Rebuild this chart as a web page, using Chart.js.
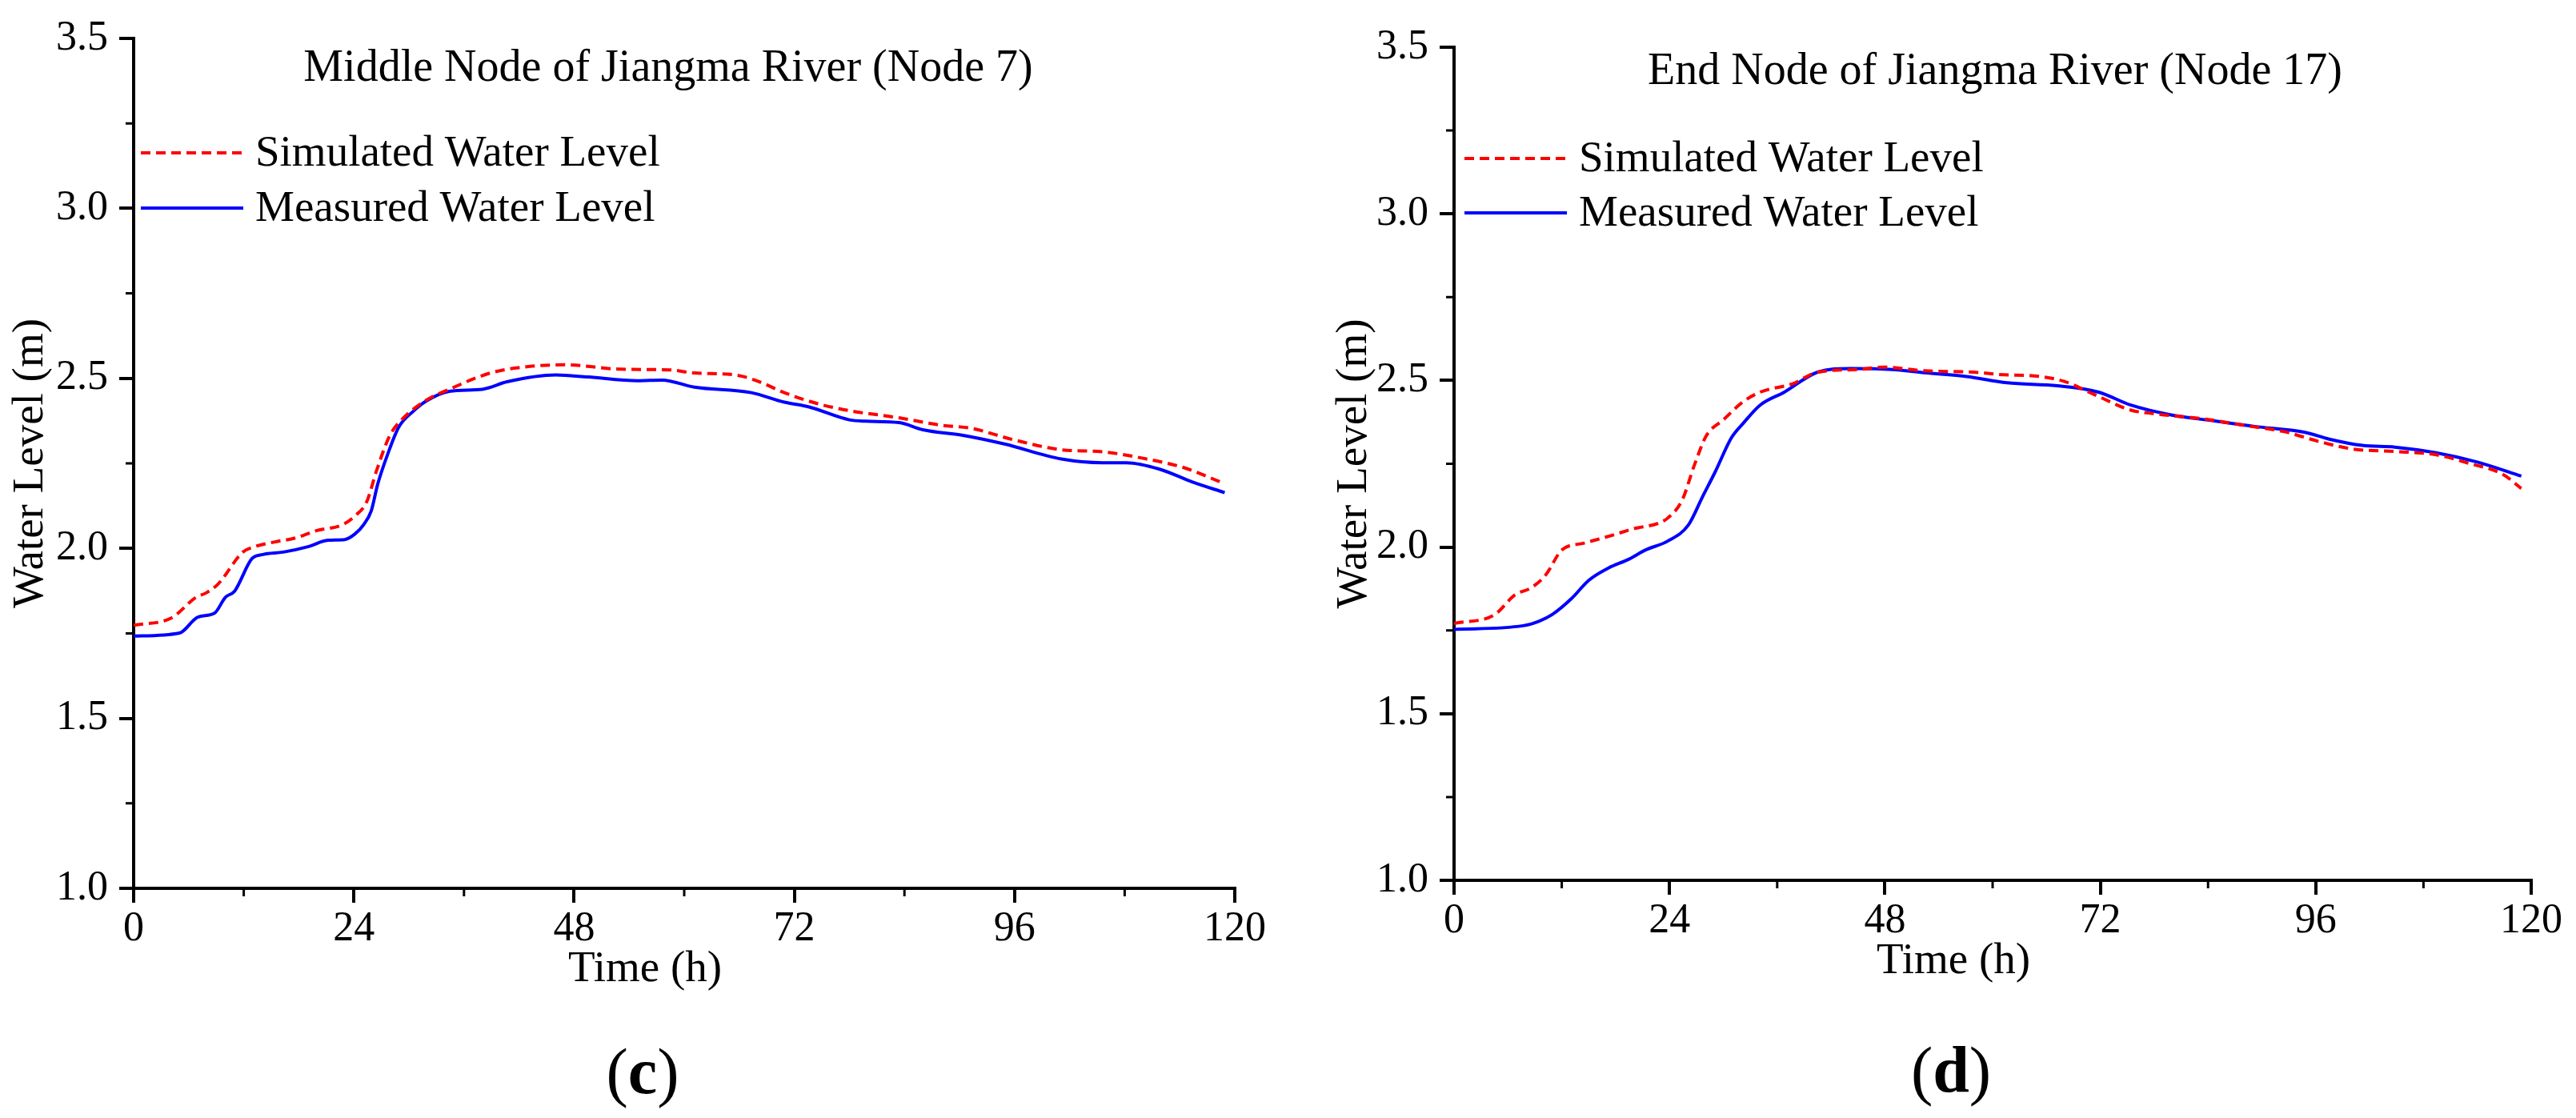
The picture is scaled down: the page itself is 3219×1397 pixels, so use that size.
<!DOCTYPE html>
<html>
<head>
<meta charset="utf-8">
<script src="https://cdn.jsdelivr.net/npm/chart.js@4.4.1/dist/chart.umd.min.js"></script>
<style>
  html, body { margin: 0; padding: 0; background: #fff; }
  body { width: 3219px; height: 1397px; position: relative; overflow: hidden; }
  canvas { position: absolute; top: 0; }
  #chartC { left: 0; }
  #chartD { left: 1654px; }
</style>
</head>
<body>
<canvas id="chartC" width="1640" height="1397"></canvas>
<canvas id="chartD" width="1565" height="1397"></canvas>
<script>
// Middle node (Node 7) - simulated
const timeSimC = [0, 4.1, 6.8, 7.9, 9.2, 11.9, 13.2, 15.4, 17.7, 19.9, 22.8, 24.1, 25.4, 26.5, 27.9, 29.2, 31.9, 34.4, 38.9, 42.4, 46.9, 53.1, 58.4, 61.1, 65.6, 68.2, 70.9, 74.5, 78, 83.4, 87.8, 91.3, 95.8, 101.1, 105.6, 110, 114.5, 118.9];
const levelSimC = [1.774, 1.795, 1.856, 1.869, 1.895, 1.989, 2.005, 2.019, 2.031, 2.052, 2.07, 2.095, 2.137, 2.231, 2.331, 2.378, 2.436, 2.468, 2.516, 2.533, 2.54, 2.527, 2.525, 2.516, 2.51, 2.49, 2.458, 2.426, 2.405, 2.384, 2.363, 2.353, 2.32, 2.29, 2.284, 2.265, 2.237, 2.19];
// Middle node (Node 7) - measured
const timeMeasC = [0, 5.0, 7.0, 8.8, 10.0, 11.0, 12.9, 14.1, 16.3, 19.0, 21.2, 23.0, 24.1, 25.1, 25.9, 26.6, 27.7, 28.9, 30.5, 31.8, 34.4, 38, 40.7, 46, 49.5, 54.9, 57.6, 61.1, 67.3, 70.9, 73.6, 78, 79.8, 83.4, 86, 90.5, 94.9, 101.1, 105.6, 108.2, 111.8, 115.4, 118.9];
const levelMeasC = [1.742, 1.751, 1.798, 1.809, 1.856, 1.874, 1.970, 1.982, 1.989, 2.005, 2.024, 2.026, 2.042, 2.071, 2.111, 2.189, 2.278, 2.357, 2.404, 2.432, 2.462, 2.468, 2.49, 2.51, 2.504, 2.493, 2.495, 2.474, 2.458, 2.43, 2.416, 2.378, 2.374, 2.37, 2.349, 2.332, 2.307, 2.263, 2.252, 2.252, 2.233, 2.195, 2.164];

// End node (Node 17) - simulated
const timeSimD = [0, 4.5, 6.8, 8.6, 10.2, 12.0, 14.5, 17.7, 20.0, 22.7, 23.8, 25.4, 26.8, 28.1, 30.0, 32.2, 34.1, 37.7, 40.5, 45.1, 47.8, 52.4, 57.9, 60.7, 65.3, 68, 71.3, 75.4, 78.1, 83.7, 88.3, 92.4, 96.6, 100.2, 104.8, 109.4, 113.1, 116.8, 118.9];
const levelSimD = [1.771, 1.797, 1.857, 1.878, 1.916, 1.991, 2.012, 2.036, 2.055, 2.071, 2.087, 2.14, 2.248, 2.334, 2.382, 2.436, 2.465, 2.49, 2.525, 2.533, 2.54, 2.529, 2.525, 2.518, 2.512, 2.497, 2.458, 2.411, 2.4, 2.384, 2.364, 2.347, 2.315, 2.294, 2.287, 2.277, 2.251, 2.219, 2.176];
// End node (Node 17) - measured
const timeMeasD = [0, 7.7, 9.5, 10.9, 13.1, 15.0, 17.2, 19.5, 21.3, 23.8, 26.1, 27.7, 29.1, 30.9, 32.2, 34.1, 36.8, 40.5, 44.2, 48.8, 52.4, 57.1, 61.6, 67.2, 71.8, 75.4, 80, 84.6, 89.2, 94.7, 97.5, 101.2, 104.8, 109.4, 114, 118.9];
const levelMeasD = [1.753, 1.764, 1.778, 1.797, 1.846, 1.9, 1.937, 1.964, 1.991, 2.018, 2.066, 2.152, 2.226, 2.328, 2.371, 2.426, 2.465, 2.525, 2.536, 2.533, 2.523, 2.512, 2.493, 2.484, 2.465, 2.426, 2.396, 2.379, 2.362, 2.345, 2.324, 2.305, 2.3, 2.283, 2.255, 2.213];

// axes
const minorTicksY = [1.25, 1.75, 2.25, 2.75, 3.25];
const minorTicksX = [12, 36, 60, 84, 108];
const seriesNames = ['Simulated Water Level', 'Measured Water Level'];

const FONT = '"Liberation Serif", serif';
Chart.defaults.font.family = FONT;
Chart.defaults.color = '#000';

function toPoints(t, v) {
  return t.map((x, i) => ({ x: x, y: v[i] }));
}

// draws minor ticks, the inner title, legend, x title and panel letter
const panelText = {
  id: 'panelText',
  afterDraw(chart, args, opts) {
    const ctx = chart.ctx;
    const xs = chart.scales.x, ys = chart.scales.y;
    ctx.save();
    ctx.strokeStyle = '#000';
    ctx.lineWidth = 3;
    ctx.beginPath();
    minorTicksY.forEach(v => {
      const p = ys.getPixelForValue(v);
      ctx.moveTo(xs.left, p);
      ctx.lineTo(xs.left - 10, p);
    });
    minorTicksX.forEach(v => {
      const p = xs.getPixelForValue(v);
      ctx.moveTo(p, ys.bottom);
      ctx.lineTo(p, ys.bottom + 10);
    });
    ctx.stroke();

    ctx.fillStyle = '#000';
    ctx.font = '56px ' + FONT;
    ctx.textAlign = 'center';
    ctx.textBaseline = 'middle';
    ctx.fillText(opts.title, opts.titleX, opts.titleY);

    // legend
    ctx.font = '55px ' + FONT;
    ctx.textAlign = 'left';
    chart.data.datasets.forEach((ds, i) => {
      const y = opts.legendY + i * opts.legendGap;
      ctx.strokeStyle = ds.borderColor;
      ctx.lineWidth = ds.borderWidth;
      ctx.setLineDash(ds.borderDash || []);
      ctx.beginPath();
      ctx.moveTo(opts.legendX, y);
      ctx.lineTo(opts.legendX + 128, y);
      ctx.stroke();
      ctx.setLineDash([]);
      ctx.fillText(ds.label, opts.legendX + 143, y + 2);
    });

    ctx.textAlign = 'center';
    ctx.fillText('Time (h)', opts.xTitleX, opts.xTitleY);

    // panel letter: regular parentheses, bold letter
    const lx = opts.letterX, ly = opts.letterY;
    const reg = '82px ' + FONT, bold = 'bold 82px ' + FONT;
    ctx.font = reg;
    const pw = ctx.measureText('(').width;
    ctx.font = bold;
    const lw = ctx.measureText(opts.letter).width;
    const start = lx - (pw * 2 + lw) / 2;
    ctx.textAlign = 'left';
    ctx.font = reg;
    ctx.fillText('(', start, ly);
    ctx.fillText(')', start + pw + lw, ly);
    ctx.font = bold;
    ctx.fillText(opts.letter, start + pw, ly);
    ctx.restore();
  }
};

function makeChart(id, sim, meas, layout, text) {
  return new Chart(document.getElementById(id), {
    type: 'line',
    data: {
      datasets: [
        { label: seriesNames[0], data: sim, borderColor: '#ff0000', borderWidth: 4, borderDash: [12, 7], pointRadius: 0, fill: false, cubicInterpolationMode: 'monotone' },
        { label: seriesNames[1], data: meas, borderColor: '#0000ff', borderWidth: 4, pointRadius: 0, fill: false, cubicInterpolationMode: 'monotone' }
      ]
    },
    options: {
      responsive: false,
      animation: false,
      devicePixelRatio: 1,
      events: [],
      layout: { padding: { top: layout.top, right: layout.right, left: 0, bottom: 0 } },
      plugins: {
        legend: { display: false },
        tooltip: { enabled: false },
        panelText: text
      },
      scales: {
        x: {
          type: 'linear',
          min: 0, max: 120,
          afterFit: s => { s.height = layout.xHeight; },
          ticks: { stepSize: 24, padding: 2, font: { family: FONT, size: 52 }, maxRotation: 0 },
          grid: { drawOnChartArea: false, drawTicks: true, tickLength: 18, lineWidth: 4, color: '#000' },
          border: { display: true, color: '#000', width: 4 }
        },
        y: {
          min: 1, max: 3.5,
          afterFit: s => { s.width = layout.yWidth; },
          ticks: { stepSize: 0.5, padding: 14, font: { family: FONT, size: 52 }, callback: v => v.toFixed(1) },
          grid: { drawOnChartArea: false, drawTicks: true, tickLength: 18, lineWidth: 4, color: '#000' },
          border: { display: true, color: '#000', width: 4 },
          title: { display: true, text: 'Water Level (m)', font: { family: FONT, size: 55 }, padding: { top: 6, bottom: 0 } }
        }
      }
    },
    plugins: [panelText]
  });
}

makeChart('chartC', toPoints(timeSimC, levelSimC), toPoints(timeMeasC, levelMeasC),
  { top: 48, right: 97, xHeight: 287, yWidth: 167 },
  { title: 'Middle Node of Jiangma River (Node 7)', titleX: 835, titleY: 86,
    legendX: 176, legendY: 191, legendGap: 69,
    xTitleX: 806, xTitleY: 1212, letter: 'c', letterX: 803, letterY: 1345 });

makeChart('chartD', toPoints(timeSimD, levelSimD), toPoints(timeMeasD, levelMeasD),
  { top: 59, right: 56, xHeight: 297, yWidth: 163 },
  { title: 'End Node of Jiangma River (Node 17)', titleX: 839, titleY: 90,
    legendX: 176, legendY: 198, legendGap: 68,
    xTitleX: 787, xTitleY: 1202, letter: 'd', letterX: 784, letterY: 1343 });
</script>
</body>
</html>
